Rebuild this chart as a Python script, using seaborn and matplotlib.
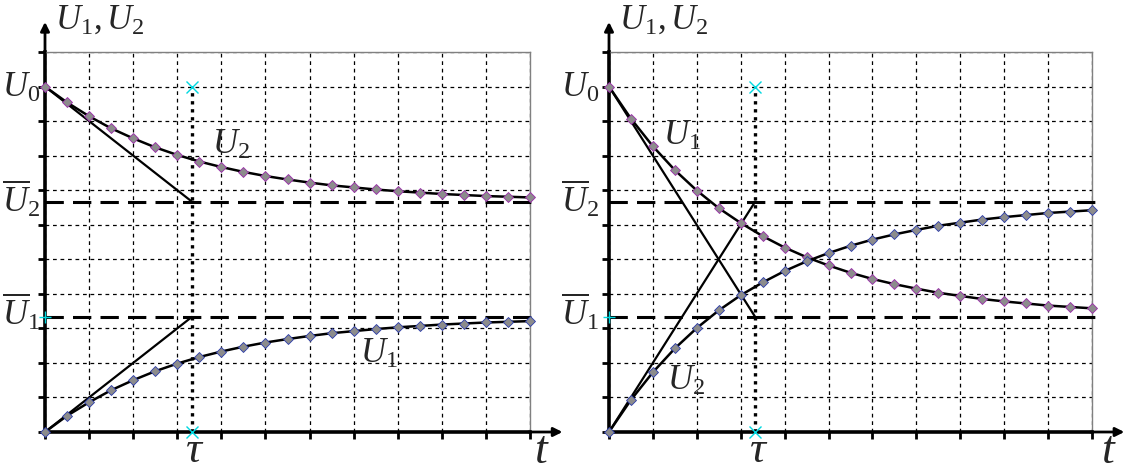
import matplotlib
matplotlib.use("Agg")
import matplotlib.pyplot as plt
import seaborn as sns
import pandas as pd

# Значения (шаг по времени 0.5 клетки)
t = [0, 0.5, 1, 1.5, 2, 2.5, 3, 3.5, 4, 4.5, 5, 5.5, 6, 6.5, 7, 7.5, 8, 8.5, 9, 9.5, 10, 10.5, 11]

# левый график
u2_left = [10.00, 9.54, 9.14, 8.79, 8.50, 8.24, 8.02, 7.83, 7.67, 7.53, 7.41, 7.31,
           7.22, 7.14, 7.08, 7.02, 6.97, 6.93, 6.89, 6.86, 6.83, 6.81, 6.79]
u1_left = [0.00, 0.47, 0.86, 1.21, 1.50, 1.76, 1.98, 2.17, 2.33, 2.47, 2.59, 2.69,
           2.78, 2.86, 2.92, 2.98, 3.03, 3.07, 3.11, 3.14, 3.17, 3.19, 3.21]

# правый график
u1_right = [10.00, 9.07, 8.27, 7.58, 6.99, 6.48, 6.05, 5.67, 5.34, 5.06, 4.82, 4.61,
            4.43, 4.28, 4.15, 4.03, 3.94, 3.85, 3.78, 3.72, 3.66, 3.62, 3.58]
u2_right = [0.00, 0.93, 1.73, 2.42, 3.01, 3.52, 3.96, 4.33, 4.66, 4.94, 5.18, 5.39,
            5.57, 5.72, 5.85, 5.97, 6.06, 6.15, 6.22, 6.28, 6.34, 6.38, 6.42]

U0 = 10
U1_bar = 3.33
U2_bar = 6.67
tau = 3.33
t_max = 11

sns.set_style("white")
plt.rcParams["mathtext.fontset"] = "custom"
plt.rcParams["mathtext.it"] = "Liberation Serif:italic"
plt.rcParams["mathtext.rm"] = "Liberation Serif"
plt.rcParams["font.family"] = ["Liberation Serif", "DejaVu Serif"]

fig = plt.figure(figsize=(11.45, 4.73), dpi=100)
ax1 = fig.add_axes([45 / 1145, 41 / 473, 485 / 1145, 380 / 473])
ax2 = fig.add_axes([609 / 1145, 41 / 473, 483 / 1145, 380 / 473])

PURPLE = "#9a2aaa"
NAVY = "#2a3aaa"
CYAN = "#00d8e0"
FS = 25


def base(ax, t_x):
    ax.set_xlim(0, t_max)
    ax.set_ylim(0, 11)
    ax.set_xticks(range(0, 12))
    ax.set_yticks(range(0, 12))
    ax.set_xticklabels([])
    ax.set_yticklabels([])
    ax.tick_params(direction="out", length=5, width=2, color="black",
                   bottom=True, left=True)
    ax.grid(True, color="black", linestyle=(0, (3, 3)), linewidth=0.9)
    for s in ["left", "bottom"]:
        ax.spines[s].set_color("black")
        ax.spines[s].set_linewidth(2.6)
    for s in ["top", "right"]:
        ax.spines[s].set_color("#808080")
        ax.spines[s].set_linewidth(1)
    # стрелки осей
    ax.annotate("", xy=(0, 11.95), xytext=(0, 10.9),
                arrowprops=dict(arrowstyle="-|>", lw=2, color="black", mutation_scale=13),
                annotation_clip=False)
    ax.annotate("", xy=(11.8, 0), xytext=(10.9, 0),
                arrowprops=dict(arrowstyle="-|>", lw=2, color="black", mutation_scale=13),
                annotation_clip=False)
    # пунктир уровня
    for lvl in [U1_bar, U2_bar]:
        ax.plot([0, 11.1], [lvl, lvl], color="black", lw=2.2,
                linestyle=(0, (6, 3)), clip_on=False, zorder=3)
    ax.plot([tau, tau], [0, U0], color="black", lw=2.4, linestyle=(0, (1, 1.4)), zorder=3)
    ax.plot([tau, tau], [U0, 0], linestyle="none", marker="x", color=CYAN,
            markersize=8, mew=1, clip_on=False, zorder=6)
    ax.plot([0], [U1_bar], linestyle="none", marker="+", color=CYAN,
            markersize=9, mew=1, clip_on=False, zorder=6)
    ax.text(tau + 0.03, -0.86, "τ", style="italic", fontsize=32, ha="center", va="baseline")
    ax.text(t_x, -0.9, "t", style="italic", fontsize=33, ha="center", va="baseline")
    ax.text(0.23, 11.66, "$U_1, U_2$", fontsize=FS, ha="left", va="baseline")


def curve(ax, y, edge):
    df = pd.DataFrame({"t": t, "u": y})
    sns.lineplot(data=df, x="t", y="u", ax=ax, color="black", lw=1.8,
                 marker="D", markersize=5, markerfacecolor="#8c8c8c",
                 markeredgecolor=edge, markeredgewidth=0.6, zorder=5, clip_on=False)


base(ax1, 11.25)
base(ax2, 11.37)

# левый: касательные
ax1.plot([0, tau], [U0, U2_bar], color="black", lw=1.6, zorder=4)
ax1.plot([0, tau], [0, U1_bar], color="black", lw=1.6, zorder=4)
curve(ax1, u2_left, PURPLE)
curve(ax1, u1_left, NAVY)

# правый: касательные
ax2.plot([0, tau], [U0, U1_bar], color="black", lw=1.6, zorder=4)
ax2.plot([0, tau], [0, U2_bar], color="black", lw=1.6, zorder=4)
curve(ax2, u1_right, PURPLE)
curve(ax2, u2_right, NAVY)

for ax, dx in [(ax1, -0.97), (ax2, -1.09)]:
    ax.set_xlabel("")
    ax.set_ylabel("")
    ax.text(dx, 9.7, "$U_0$", fontsize=FS, ha="left", va="baseline")
    ax.text(dx, 6.38, r"$\overline{U}_2$", fontsize=FS, ha="left", va="baseline")
    ax.text(dx, 3.1, r"$\overline{U}_1$", fontsize=FS, ha="left", va="baseline")

ax1.text(3.79, 8.05, "$U_2$", fontsize=FS, ha="left", va="baseline")
ax1.text(7.14, 2.0, "$U_1$", fontsize=FS, ha="left", va="baseline")
ax2.text(1.23, 8.31, "$U_1$", fontsize=FS, ha="left", va="baseline")
ax2.text(1.32, 1.22, "$U_2$", fontsize=FS, ha="left", va="baseline")

fig.savefig("out.png", dpi=100)
